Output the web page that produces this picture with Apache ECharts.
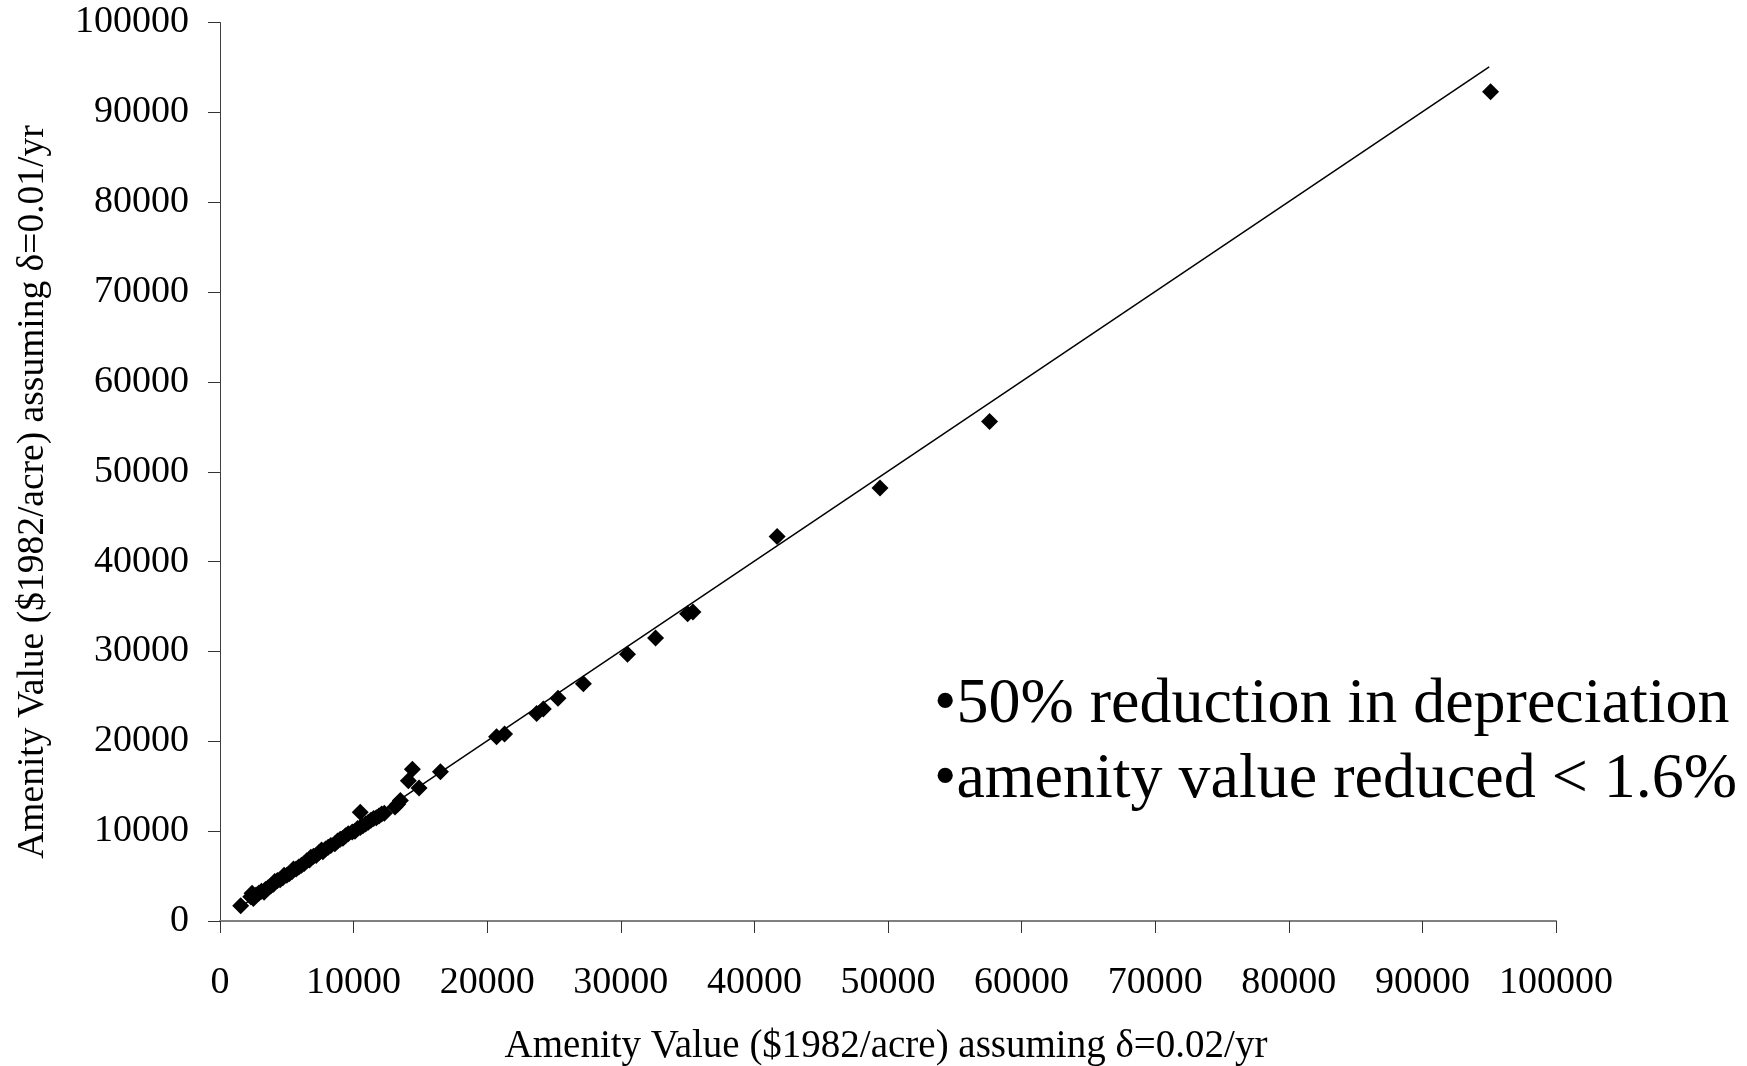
<!DOCTYPE html>
<html>
<head>
<meta charset="utf-8">
<script src="https://cdn.jsdelivr.net/npm/echarts@6/dist/echarts.min.js"></script>
<style>
html,body{margin:0;padding:0;background:#fff;}
#chart{width:1747px;height:1066px;}
</style>
</head>
<body>
<div id="chart"></div>
<script>
// Amenity value assuming delta = 0.02/yr (x) and delta = 0.01/yr (y)
const xValues02 = [
  95100, 57600, 49400, 41700, 35400, 35000, 32600, 30500, 27200, 25300,
  24200, 23700, 21300, 20700, 16500, 14400, 14100, 14900, 13500, 13300,
  13100, 12300, 10500,
  1550, 2300, 2400, 2500, 2700, 2900, 3100, 3300, 3400, 3600,
  3800, 4000, 4100, 4300, 4500, 4700, 4800, 5000, 5200, 5400,
  5500, 5700, 5900, 6100, 6300, 6500, 6700, 6800, 7000, 7200,
  7400, 7600, 7700, 7900, 8100, 8300, 8600, 8800, 9000, 9200,
  9400, 9600, 9900, 10100, 10300, 10500, 10700, 10900, 11100, 11300,
  11500, 11700, 11900, 12100
];
const yValues01 = [
  92300, 55600, 48200, 42800, 34400, 34200, 31500, 29700, 26400, 24800,
  23600, 23100, 20800, 20500, 16600, 16900, 15600, 14800, 13400, 13000,
  12700, 12000, 12100,
  1700, 2700, 3100, 2500, 2900, 3100, 3300, 3200, 3500, 3700,
  3900, 4100, 4400, 4500, 4600, 4800, 5100, 5100, 5300, 5500,
  5800, 5800, 6000, 6200, 6400, 6700, 6800, 7100, 7200, 7300,
  7600, 7900, 7700, 8000, 8200, 8400, 8600, 8900, 9100, 9200,
  9500, 9700, 9900, 10000, 10300, 10400, 10600, 10800, 11000, 11200,
  11400, 11500, 11700, 11900
];
// Reference line endpoints
const lineX = [1550, 95000];
const lineY = [1600, 95050];
const tickValues = [0, 10000, 20000, 30000, 40000, 50000, 60000, 70000, 80000, 90000, 100000];

const xTitle = 'Amenity Value ($1982/acre) assuming δ=0.02/yr';
const yTitle = 'Amenity Value ($1982/acre) assuming δ=0.01/yr';
const notes = ['•50% reduction in depreciation', '•amenity value reduced < 1.6%'];

const FONT = '"Liberation Serif", "Times New Roman", serif';
const chart = echarts.init(document.getElementById('chart'), null, {renderer: 'canvas'});

const points = xValues02.map((x, i) => [x, yValues01[i]]);
const linePts = lineX.map((x, i) => [x, lineY[i]]);
const fmt = v => String(v);

chart.setOption({
  animation: false,
  backgroundColor: '#fff',
  grid: {left: 220, right: 191, top: 22.5, bottom: 145, containLabel: false},
  xAxis: {
    type: 'value', min: tickValues[0], max: tickValues[tickValues.length - 1], interval: 10000,
    splitLine: {show: false},
    axisLine: {show: true, onZero: false, lineStyle: {color: '#808080', width: 2}},
    axisTick: {show: true, inside: false, length: 12, lineStyle: {color: '#333', width: 1}},
    axisLabel: {color: '#000', fontFamily: FONT, fontSize: 38, margin: 43, formatter: fmt}
  },
  yAxis: {
    type: 'value', min: tickValues[0], max: tickValues[tickValues.length - 1], interval: 10000,
    splitLine: {show: false},
    axisLine: {show: true, onZero: false, lineStyle: {color: '#404040', width: 1}},
    axisTick: {show: true, inside: false, length: 12, lineStyle: {color: '#333', width: 1}},
    axisLabel: {color: '#000', fontFamily: FONT, fontSize: 38, margin: 31, formatter: fmt}
  },
  graphic: [
    {type: 'text', x: 886, y: 1047, style: {text: xTitle, fontFamily: FONT, fontSize: 39, fill: '#000', align: 'center', verticalAlign: 'middle'}},
    {type: 'text', x: 33, y: 492, rotation: Math.PI / 2, style: {text: yTitle, fontFamily: FONT, fontSize: 37.5, fill: '#000', align: 'center', verticalAlign: 'middle'}},
    {type: 'text', x: 934, y: 705, style: {text: notes[0], fontFamily: FONT, fontSize: 64, fill: '#000', align: 'left', verticalAlign: 'middle'}},
    {type: 'text', x: 934, y: 780, style: {text: notes[1], fontFamily: FONT, fontSize: 64, fill: '#000', align: 'left', verticalAlign: 'middle'}}
  ],
  series: [
    {
      type: 'line', data: linePts, symbol: 'none', z: 2,
      lineStyle: {color: '#000', width: 1.5}
    },
    {
      type: 'scatter', data: points, symbol: 'diamond', symbolSize: 17, z: 3,
      itemStyle: {color: '#000', opacity: 1}
    }
  ]
});
</script>
</body>
</html>
